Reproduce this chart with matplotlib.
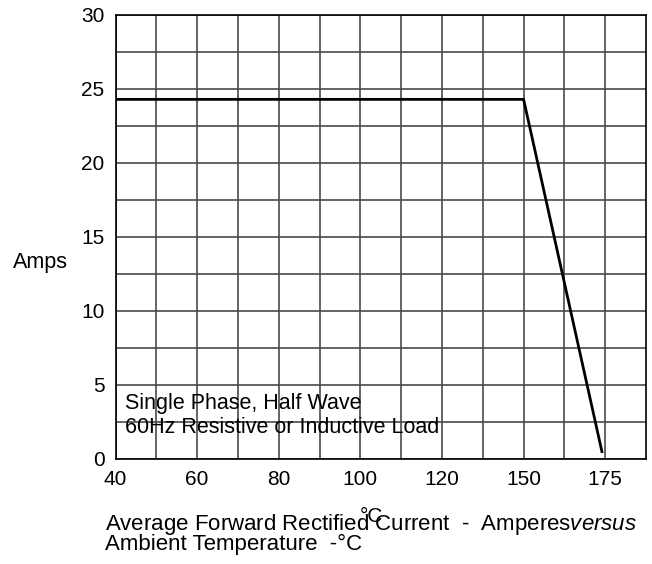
import numpy as np
import matplotlib
matplotlib.use("Agg")
import matplotlib.pyplot as plt
from matplotlib.ticker import FixedLocator, NullFormatter

plt.rcParams['font.family'] = ['Liberation Sans', 'DejaVu Sans']
plt.rcParams['mathtext.fontset'] = 'custom'
plt.rcParams['mathtext.rm'] = 'Liberation Sans'
plt.rcParams['mathtext.it'] = 'Liberation Sans:italic'

# derating curve (ambient temperature degC, amps)
temp = [40, 150, 174]
amps = [24.3, 24.3, 0.5]

xtick_vals = [40, 60, 80, 100, 120, 150, 175]
ytick_vals = [0, 5, 10, 15, 20, 25, 30]

# the printed axis is not linear: 120->150 and 150->175 each take two grid squares
knot_t = [0, 120, 150, 200]
knot_p = [0, 120, 140, 180]


def fwd(t):
    return np.interp(t, knot_t, knot_p)


def inv(p):
    return np.interp(p, knot_p, knot_t)


W, H = 652, 564
fig = plt.figure(figsize=(W / 100, H / 100), dpi=100)
ax = fig.add_axes([115.5 / W, 1 - 459 / H, (646 - 115.5) / W, 444 / H])
ax.set_xscale('function', functions=(fwd, inv))
ax.set_xlim(40, inv(170))
ax.set_ylim(0, 30)

ax.xaxis.set_major_locator(FixedLocator(xtick_vals))
ax.set_xticklabels([str(v) for v in xtick_vals])
ax.xaxis.set_minor_locator(FixedLocator(inv(np.arange(50, 170, 20))))
ax.xaxis.set_minor_formatter(NullFormatter())
ax.set_yticks(ytick_vals)
ax.set_yticks(np.arange(2.5, 30, 5), minor=True)

ax.tick_params(which='both', length=0, labelsize=15, pad=8, colors='black')
ax.grid(which='both', color='#4a4a4a', linewidth=1.2)
ax.set_axisbelow(True)
for s in ax.spines.values():
    s.set_color('black')
    s.set_linewidth(1.2)

ax.plot(temp, amps, color='black', linewidth=2)

ax.text(0.018, (459 - 409) / 444, 'Single Phase, Half Wave',
        transform=ax.transAxes, fontsize=15.5, va='baseline', ha='left')
ax.text(0.018, (459 - 433) / 444, '60Hz Resistive or Inductive Load',
        transform=ax.transAxes, fontsize=15.5, va='baseline', ha='left')

fig.text(13 / W, 1 - 262 / H, 'Amps', fontsize=15.5, ha='left', va='center')

fig.text(105 / W, 1 - 530 / H,
         r'Average Forward Rectified Current  -  Amperes$\it{versus}$',
         fontsize=16, ha='left', va='baseline')
fig.text(360 / W, 1 - 517 / H, '°C', fontsize=15, ha='left', va='center')
fig.text(105 / W, 1 - 550 / H, 'Ambient Temperature  -°C',
         fontsize=16, ha='left', va='baseline')

fig.savefig('out.png', dpi=100)
